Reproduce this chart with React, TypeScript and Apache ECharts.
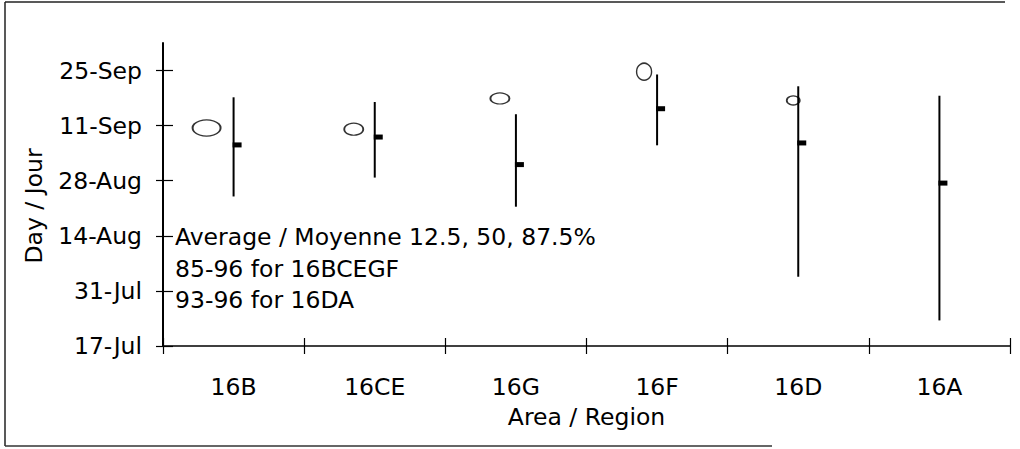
import { useEffect, useRef } from 'react';
import * as echarts from 'echarts';

// Areas
const categories = ['16B', '16CE', '16G', '16F', '16D', '16A'];
// Values are days after 17-Jul
const low = [38.0, 42.8, 35.4, 51.0, 17.6, 6.5]; // 12.5%
const median = [51.1, 53.1, 46.1, 60.3, 51.6, 41.4]; // 50%
const high = [63.2, 62.0, 58.9, 69.0, 66.0, 63.6]; // 87.5%
const oval = [55.4, 55.1, 62.9, 69.7, 62.4, null]; // open marker
const yTickValues = [0, 14, 28, 42, 56, 70];
const yMax = 77;
const noteLines = ['Average / Moyenne 12.5, 50, 87.5%', '85-96 for 16BCEGF', '93-96 for 16DA'];
const months = ['Jan', 'Feb', 'Mar', 'Apr', 'May', 'Jun', 'Jul', 'Aug', 'Sep', 'Oct', 'Nov', 'Dec'];

// marker style (width, height, x offset) per area — styling only
const ovalShape = [
  [28, 16, -27],
  [19, 12, -21],
  [19, 11, -16],
  [15, 17, -13],
  [13, 9, -5],
  [0, 0, 0],
];

const FONT = 'DejaVu Sans';
const FS = 23.5;

function dayLabel(v: number): string {
  const base = Date.UTC(1996, 6, 17);
  const d = new Date(base + Math.round(v) * 86400000);
  return d.getUTCDate() + '-' + months[d.getUTCMonth()];
}

export default function App() {
  const ref = useRef<HTMLDivElement>(null);
  useEffect(() => {
    if (!ref.current) return;
    const chart = echarts.init(ref.current, undefined, { renderer: 'svg' });
    const rangeData = categories.map((_, i) => [i, low[i], median[i], high[i]]);
    const ovalData = categories
      .map((_, i) => ({
        value: [i, oval[i]],
        symbolSize: [ovalShape[i][0], ovalShape[i][1]],
        symbolOffset: [ovalShape[i][2], 0],
      }))
      .filter((d) => d.value[1] !== null);

    const textStyle = { color: '#000', fontFamily: FONT, fontSize: FS };
    const gridBox = { left: 163, right: 10, top: 43, bottom: 103 };

    chart.setOption({
      animation: false,
      backgroundColor: '#fff',
      textStyle: { fontFamily: FONT },
      grid: [gridBox, gridBox],
      xAxis: [
        {
          type: 'category',
          gridIndex: 0,
          data: categories,
          boundaryGap: true,
          axisLine: { show: true, lineStyle: { color: '#000', width: 1.5 } },
          axisTick: { show: true, length: 8, lineStyle: { color: '#000', width: 1.2 } },
          axisLabel: { ...textStyle, margin: 29 },
          name: 'Area / Region',
          nameLocation: 'middle',
          nameGap: 59,
          nameTextStyle: textStyle,
          splitLine: { show: false },
        },
        {
          type: 'category',
          gridIndex: 1,
          data: categories,
          boundaryGap: true,
          position: 'bottom',
          axisLine: { show: false },
          axisTick: { show: true, inside: true, length: 8, lineStyle: { color: '#000', width: 1.2 } },
          axisLabel: { show: false },
          splitLine: { show: false },
        },
      ],
      yAxis: [
        {
          type: 'value',
          gridIndex: 0,
          min: 0,
          max: yMax,
          interval: 14,
          axisLine: { show: true, lineStyle: { color: '#000', width: 2 } },
          axisTick: {
            show: true,
            length: 7,
            customValues: yTickValues,
            lineStyle: { color: '#000', width: 1.2 },
          },
          axisLabel: {
            ...textStyle,
            margin: 21,
            customValues: yTickValues,
            formatter: (v: number) => (yTickValues.includes(v) ? dayLabel(v) : ''),
          },
          splitLine: { show: false },
        },
        {
          type: 'value',
          gridIndex: 1,
          position: 'left',
          min: 0,
          max: yMax,
          interval: 14,
          axisLine: { show: false },
          axisTick: {
            show: true,
            inside: true,
            length: 10,
            customValues: yTickValues,
            lineStyle: { color: '#000', width: 1.2 },
          },
          axisLabel: { show: false },
          splitLine: { show: false },
        },
      ],
      graphic: [
        {
          type: 'text',
          x: 34,
          y: 206,
          rotation: Math.PI / 2,
          style: { text: 'Day / Jour', fill: '#000', font: `${FS}px "${FONT}"`, align: 'center', verticalAlign: 'middle' },
        },
        ...noteLines.map((t, i) => ({
          type: 'text',
          x: 175,
          y: 237 + i * 31.5,
          style: { text: t, fill: '#000', font: `${FS}px "${FONT}"`, align: 'left', verticalAlign: 'middle' },
        })),
        { type: 'line', shape: { x1: 5, y1: 2, x2: 1005, y2: 2 }, style: { stroke: '#222', lineWidth: 1.5 } },
        { type: 'line', shape: { x1: 5, y1: 2, x2: 5, y2: 446 }, style: { stroke: '#222', lineWidth: 1.5 } },
        { type: 'line', shape: { x1: 5, y1: 446, x2: 772, y2: 446 }, style: { stroke: '#333', lineWidth: 1.5 } },
      ],
      series: [
        {
          type: 'scatter',
          xAxisIndex: 0,
          yAxisIndex: 0,
          z: 1,
          symbol: 'circle',
          data: ovalData,
          itemStyle: { color: '#fff', borderColor: '#000', borderWidth: 1.5 },
        },
        {
          type: 'custom',
          xAxisIndex: 0,
          yAxisIndex: 0,
          z: 3,
          data: rangeData,
          encode: { x: 0, y: [1, 2, 3] },
          renderItem: (params: any, api: any) => {
            const i = api.value(0);
            const pLow = api.coord([i, api.value(1)]);
            const pMed = api.coord([i, api.value(2)]);
            const pHigh = api.coord([i, api.value(3)]);
            return {
              type: 'group',
              children: [
                {
                  type: 'line',
                  shape: { x1: pLow[0], y1: pLow[1], x2: pHigh[0], y2: pHigh[1] },
                  style: { stroke: '#000', lineWidth: 2 },
                },
                {
                  type: 'rect',
                  shape: { x: pMed[0] - 1, y: pMed[1] - 2.5, width: 9, height: 5 },
                  style: { fill: '#000' },
                },
              ],
            };
          },
        },
      ],
    });
    return () => chart.dispose();
  }, []);
  return <div ref={ref} style={{ position: 'fixed', left: 0, top: 0, width: 1020, height: 449 }} />;
}
